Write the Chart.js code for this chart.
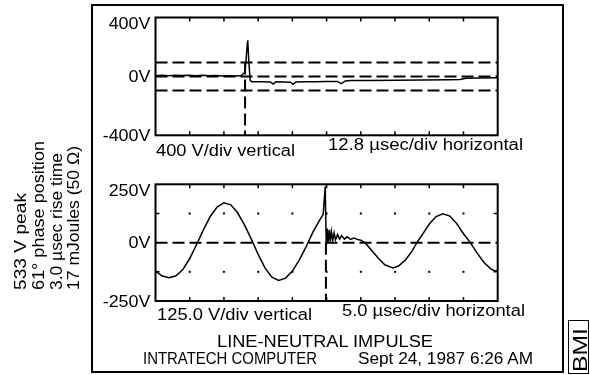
<!DOCTYPE html>
<html>
<head>
<meta charset="utf-8">
<script src="https://cdn.jsdelivr.net/npm/chart.js@4.4.1/dist/chart.umd.min.js"></script>
<style>
  html, body { margin: 0; padding: 0; background: #fff; }
  body { width: 590px; height: 375px; position: relative; overflow: hidden; font-family: "Liberation Sans", Arial, sans-serif; color: #000; }
  canvas { position: absolute; left: 0; top: 0; }
  .txt { position: absolute; white-space: nowrap; line-height: 1; transform-origin: 0 0; }
  #frame { position: absolute; left: 91px; top: 4px; width: 473px; height: 369px; border: 2px solid #000; box-sizing: border-box; }
  #bmiBox { position: absolute; left: 568px; top: 320px; width: 21px; height: 54px; border: 1.5px solid #000; box-sizing: border-box; }
</style>
</head>
<body>
<div id="frame"></div>
<div id="bmiBox"></div>
<canvas id="scopeTop" width="590" height="375"></canvas>
<canvas id="scopeBottom" width="590" height="375"></canvas>
<script>
// upper trace: 12.8 usec/div, 400 V/div
let topTime = [0, 2.5, 5, 7.5, 10, 12.5, 15, 17.5, 20, 22.5, 25, 27.5, 30, 32, 33.3, 33.8, 34.2, 34.5, 34.9, 35.4,
  36, 40, 43, 44, 45, 48, 50.5, 51.5, 52.5, 56, 60, 64, 68, 69.5, 71, 73, 80, 90, 100, 110, 114, 116, 122, 128];
let topVolts = [5, 7, 4, 8, 6, 7, 5, 8, 4, 6, 3, 5, 2, 6, 25, 90, 190, 245, 105, -25,
  -36, -37, -38, -52, -37, -38, -39, -54, -38, -37, -36, -35, -34, -49, -31, -28, -27, -26, -24, -23, -21, -12, -11, -10];
let topLimits = [95, -95];
let topTrigger = 33.5;

// lower trace: 5.0 usec/div, 125 V/div
let botTime = [0, 1, 2, 3, 4, 5, 6, 7, 8, 9, 10, 11, 12, 13, 14, 15, 16, 17, 18, 19, 20, 21, 22, 23, 24,
  24.5, 24.8, 24.95, 25.1, 25.25, 25.4, 25.55, 25.7, 25.9, 26.1, 26.3, 26.6, 26.9, 27.2, 27.6, 28, 28.5, 29, 29.5, 30,
  30.6, 31.5, 32.5, 33.5, 34.7, 35.5, 36.5, 37.5, 38.2, 39, 40, 41, 42, 43, 44, 45, 46, 47, 48, 49, 49.5, 50];
let botVolts = [-122, -143, -150, -142, -115, -68, -8, 55, 112, 152, 171, 162, 128, 76, 15, -50, -108, -148, -162, -152,
  -122, -75, -18, 45, 98, 121, 240, -15, 60, 0, 55, 5, 48, 10, 42, 12, 35, 15, 30, 15, 25, 14, 20, 14, 10,
  0, -30, -65, -95, -108, -100, -75, -35, 0, 35, 80, 112, 124, 114, 82, 38, 0, -45, -85, -112, -120, -120];
let botTrigger = 24.9;

let dash = [12, 5];

const scopePlugin = {
  id: "scope",
  afterDatasetsDraw(chart) {
    const { ctx, chartArea: a, scales: { x, y } } = chart;
    ctx.save();
    ctx.strokeStyle = "#000";
    ctx.fillStyle = "#000";
    ctx.lineWidth = 2;
    ctx.strokeRect(a.left, a.top, a.right - a.left, a.bottom - a.top);

    ctx.lineWidth = 1.5;
    x.ticks.forEach((t) => {
      if (t.value <= x.min + 1e-6 || t.value >= x.max - 1e-6) return;
      let px = x.getPixelForValue(t.value);
      ctx.beginPath();
      ctx.moveTo(px, a.top);
      ctx.lineTo(px, a.top + 4);
      ctx.moveTo(px, a.bottom);
      ctx.lineTo(px, a.bottom - 4);
      ctx.stroke();
    });

    y.ticks.forEach((t) => {
      if (t.value <= y.min || t.value >= y.max || t.value === 0) return;
      let py = y.getPixelForValue(t.value);
      ctx.beginPath();
      ctx.moveTo(a.left, py);
      ctx.lineTo(a.left + 4, py);
      ctx.moveTo(a.right, py);
      ctx.lineTo(a.right - 4, py);
      ctx.stroke();
      x.ticks.forEach((u) => {
        if (u.value <= x.min + 1e-6 || u.value >= x.max - 1e-6) return;
        ctx.fillRect(x.getPixelForValue(u.value) - 1, py - 1, 2, 2);
      });
    });

    ctx.font = "16px 'Liberation Sans'";
    ctx.textAlign = "right";
    ctx.textBaseline = "alphabetic";
    y.ticks.forEach((t) => {
      if (t.value !== y.min && t.value !== y.max && t.value !== 0) return;
      let py = y.getPixelForValue(t.value);
      let base = t.value === y.max ? py + 11.5 : py + 5.75;
      ctx.save();
      ctx.translate(a.left - 5, base);
      ctx.scale(1.12, 1);
      ctx.fillText(t.value + "V", 0, 0);
      ctx.restore();
    });
    ctx.restore();
  },
};

function pairs(xs, ys) {
  return xs.map((v, i) => ({ x: v, y: ys[i] }));
}

function dashed(points) {
  return { data: points, borderColor: "#000", borderWidth: 2, borderDash: dash, pointRadius: 0 };
}

function scope(id, datasets, xMax, xStep, yMax, yStep, pad) {
  return new Chart(document.getElementById(id).getContext("2d"), {
    type: "line",
    data: { datasets: datasets },
    options: {
      responsive: false,
      animation: false,
      layout: { padding: pad },
      plugins: { legend: { display: false }, tooltip: { enabled: false } },
      scales: {
        x: { type: "linear", display: false, min: 0, max: xMax, ticks: { stepSize: xStep } },
        y: { type: "linear", display: false, min: -yMax, max: yMax, ticks: { stepSize: yStep } },
      },
      elements: { point: { radius: 0 }, line: { tension: 0 } },
    },
    plugins: [scopePlugin],
  });
}

let topChart = scope("scopeTop", [
  { data: pairs(topTime, topVolts), borderColor: "#000", borderWidth: 1.5, pointRadius: 0 },
  dashed([{ x: 0, y: 0 }, { x: 128, y: 0 }]),
  dashed([{ x: 0, y: topLimits[0] }, { x: 128, y: topLimits[0] }]),
  dashed([{ x: 0, y: topLimits[1] }, { x: 128, y: topLimits[1] }]),
  dashed([{ x: topTrigger, y: topLimits[0] }, { x: topTrigger, y: -400 }]),
], 128, 12.8, 400, 400, { left: 155.5, top: 17.5, right: 92.3, bottom: 239.7 });

let botChart = scope("scopeBottom", [
  { data: pairs(botTime, botVolts), borderColor: "#000", borderWidth: 1.5, pointRadius: 0 },
  dashed([{ x: 0, y: 0 }, { x: 50, y: 0 }]),
  dashed([{ x: botTrigger, y: 0 }, { x: botTrigger, y: -250 }]),
], 50, 5, 250, 125, { left: 155.5, top: 184.3, right: 92.3, bottom: 74 });

// texts: x, baseline (or cap edge / start for rotated ones), width to fit, font size
function place(str, x, y, width, size, rotated) {
  let el = document.createElement("div");
  el.className = "txt";
  el.textContent = str;
  el.style.fontSize = size + "px";
  document.body.appendChild(el);
  let s = width / el.getBoundingClientRect().width;
  if (rotated) {
    el.style.left = (x - 0.1305 * size) + "px";
    el.style.top = y + "px";
    el.style.transform = "rotate(-90deg) scaleX(" + s + ")";
  } else {
    el.style.left = x + "px";
    el.style.top = (y - 0.8465 * size) + "px";
    el.style.transform = "scaleX(" + s + ")";
  }
}

place("400 V/div vertical", 156, 156.5, 139, 16);
place("12.8 \u00b5sec/div horizontal", 328, 151, 195, 16);
place("125.0 V/div vertical", 157, 320.5, 155, 16);
place("5.0 \u00b5sec/div horizontal", 342, 317, 183, 16);
place("LINE-NEUTRAL IMPULSE", 217, 348, 216, 16);
place("INTRATECH COMPUTER", 143, 365, 174, 16);
place("Sept 24, 1987 6:26 AM", 358, 365, 175, 16);
place("533 V peak", 14, 290, 97, 17, true);
place("61\u00b0 phase position", 32, 290, 149, 17, true);
place("3.0 \u00b5sec rise time", 50, 290, 137, 17, true);
place("17 mJoules (50 \u03a9)", 67, 290, 144, 17, true);
place("BMI", 571.5, 372, 44, 21, true);
</script>
</body>
</html>
